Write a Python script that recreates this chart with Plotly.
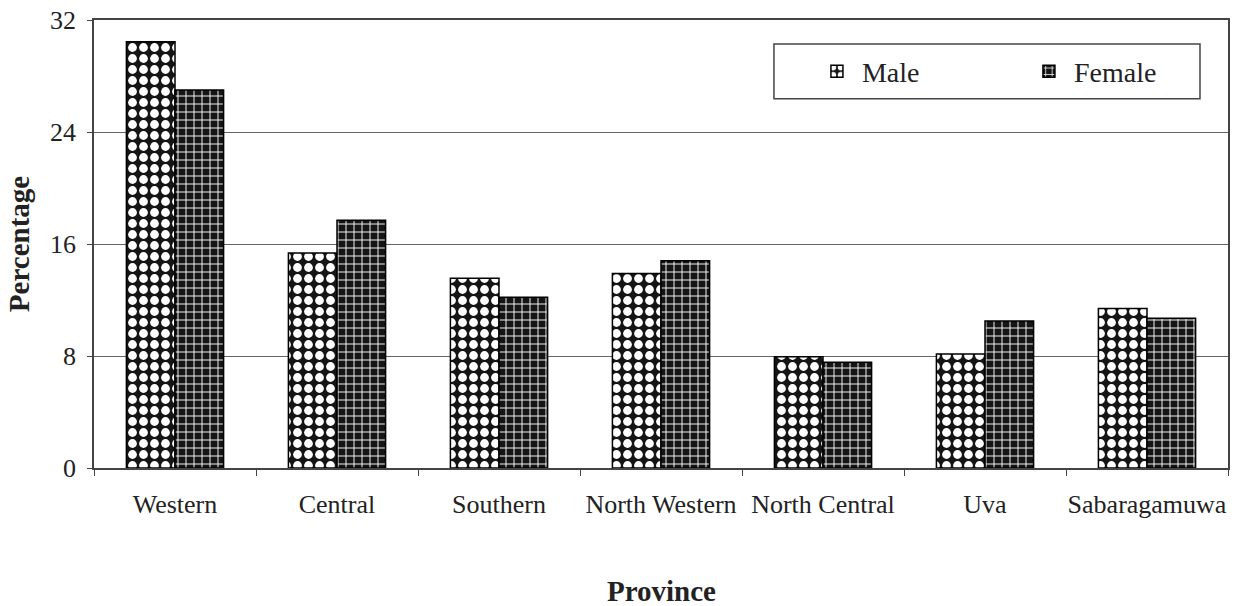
import plotly.graph_objects as go

provinces = ["Western", "Central", "Southern", "North Western",
             "North Central", "Uva", "Sabaragamuwa"]
male = [30.45, 15.35, 13.55, 13.9, 7.95, 8.15, 11.4]
female = [27.0, 17.7, 12.2, 14.8, 7.55, 10.5, 10.7]
series_names = ["Male", "Female"]
y_ticks = [0, 8, 16, 24, 32]

serif = "Liberation Serif"
ink = "#222222"

patterns = [
    dict(shape=".", bgcolor="#151515", fgcolor="white", fgopacity=1,
         size=11, solidity=0.5, fillmode="replace"),
    dict(shape="+", bgcolor="#151515", fgcolor="white", fgopacity=1,
         size=8, solidity=0.22, fillmode="replace"),
]

fig = go.Figure()
for label, values, pat in zip(series_names, [male, female], patterns):
    fig.add_trace(go.Bar(
        name=label, x=provinces, y=values,
        marker=dict(color="white", line=dict(color="black", width=1.5),
                    pattern=pat),
    ))

# legend frame
fig.add_shape(
    type="rect", xref="paper", yref="paper",
    x0=0.5996, x1=0.9753, y0=0.824, y1=0.9465,
    line=dict(color="#444", width=1.5), fillcolor="white", layer="above",
)

fig.update_layout(
    template="none",
    width=1243, height=606,
    margin=dict(l=94, r=15, t=20, b=138, autoexpand=False),
    paper_bgcolor="white", plot_bgcolor="white",
    barmode="group", bargap=0.40, bargroupgap=0,
    font=dict(family=serif, size=26, color=ink),
    showlegend=True,
    legend=dict(
        orientation="h", x=0.6331, y=0.885, xanchor="left", yanchor="middle",
        bgcolor="rgba(0,0,0,0)", borderwidth=0,
        font=dict(family=serif, size=28, color=ink, weight="normal",
                  style="normal"),
        entrywidth=157, entrywidthmode="pixels",
        itemwidth=40,
    ),
    xaxis=dict(
        type="category", tickson="boundaries", ticks="outside", ticklen=6,
        tickcolor="#444", showline=True, linecolor="#444", linewidth=1.5,
        mirror=True, showgrid=False, tickangle=0,
        tickfont=dict(family=serif, size=26, color=ink),
        ticklabelstandoff=12,
    ),
    yaxis=dict(
        range=[0, 32], tickvals=y_ticks, ticks="outside", ticklen=5,
        tickcolor="#444", showline=True, linecolor="#444", linewidth=1.5,
        mirror=True, showgrid=True, gridcolor="#666", gridwidth=1,
        zeroline=False, tickfont=dict(family=serif, size=26, color=ink),
        ticklabelstandoff=6,
        title=dict(text="<b>Percentage</b>",
                   font=dict(family=serif, size=29, color=ink), standoff=12),
    ),
    annotations=[dict(
        text="<b>Province</b>", xref="paper", yref="paper",
        x=0.5, y=-0.274, showarrow=False, yanchor="middle",
        font=dict(family=serif, size=29, color=ink),
    )],
)

fig.write_html("out.html")
